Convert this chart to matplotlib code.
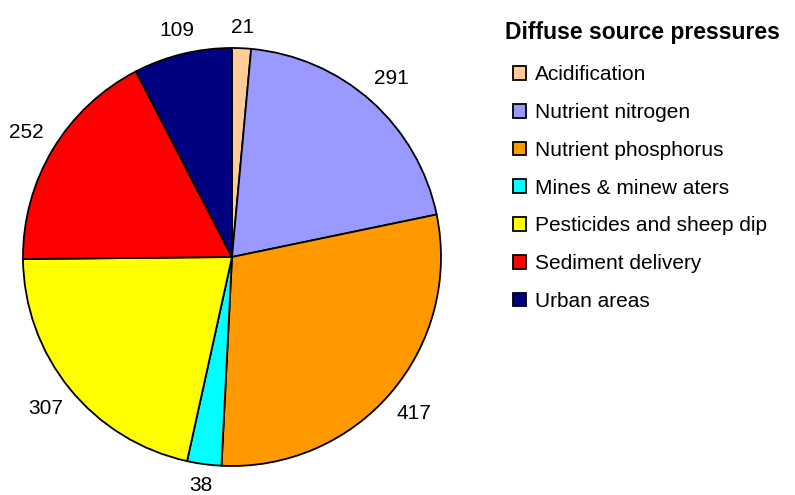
import numpy as np
import matplotlib.pyplot as plt

# ==============================
# Data
# ==============================

categories = [
    "Acidification",
    "Nutrient nitrogen",
    "Nutrient phosphorus",
    "Mines & minew aters",
    "Pesticides and sheep dip",
    "Sediment delivery",
    "Urban areas",
]
counts = [21, 291, 417, 38, 307, 252, 109]
colors = ["#FFCC99", "#9999FF", "#FF9900", "#00FFFF", "#FFFF00", "#FF0000", "#000080"]
legend_title = "Diffuse source pressures"

plt.rcParams["font.family"] = ["Liberation Sans", "DejaVu Sans"]

# ==============================
# Plot
# ==============================

fig = plt.figure(figsize=(7.95, 4.95), dpi=100)
R_PX = 209
ax = fig.add_axes([(232 - R_PX) / 795, (495 - 257 - R_PX) / 495,
                   2 * R_PX / 795, 2 * R_PX / 495])

wedges, texts = ax.pie(
    counts,
    colors=colors,
    labels=[str(c) for c in counts],
    startangle=90,
    counterclock=False,
    wedgeprops=dict(edgecolor="black", linewidth=1.3),
    textprops=dict(fontsize=15),
)

# place value labels outside the rim, box edge at a fixed gap (Excel style)
char_w = 5.8 / R_PX   # half width of one digit, axes units
half_h = 8.0 / R_PX
r0 = 1.06
for w, t in zip(wedges, texts):
    ang = np.deg2rad((w.theta1 + w.theta2) / 2)
    hw = char_w * len(t.get_text())
    off = abs(np.cos(ang)) * hw + abs(np.sin(ang)) * half_h
    d = r0 + off
    t.set_position((d * np.cos(ang), d * np.sin(ang)))
    t.set_horizontalalignment("center")
    t.set_verticalalignment("center")
    t.set_clip_on(False)

ax.set_xlim(-1, 1)
ax.set_ylim(-1, 1)
ax.set_aspect("equal")

fig.text(505 / 795, 1 - 33 / 495, legend_title, fontsize=16.5, fontweight="bold",
         ha="left", va="center")

leg = fig.legend(
    wedges,
    categories,
    loc="upper left",
    bbox_to_anchor=(505 / 795, 1 - 57 / 495),
    frameon=False,
    fontsize=15,
    handlelength=0.63,
    handleheight=0.63,
    handletextpad=0.4,
    labelspacing=0.9,
    borderaxespad=0,
)

plt.savefig("out.png", dpi=100)
plt.close()
